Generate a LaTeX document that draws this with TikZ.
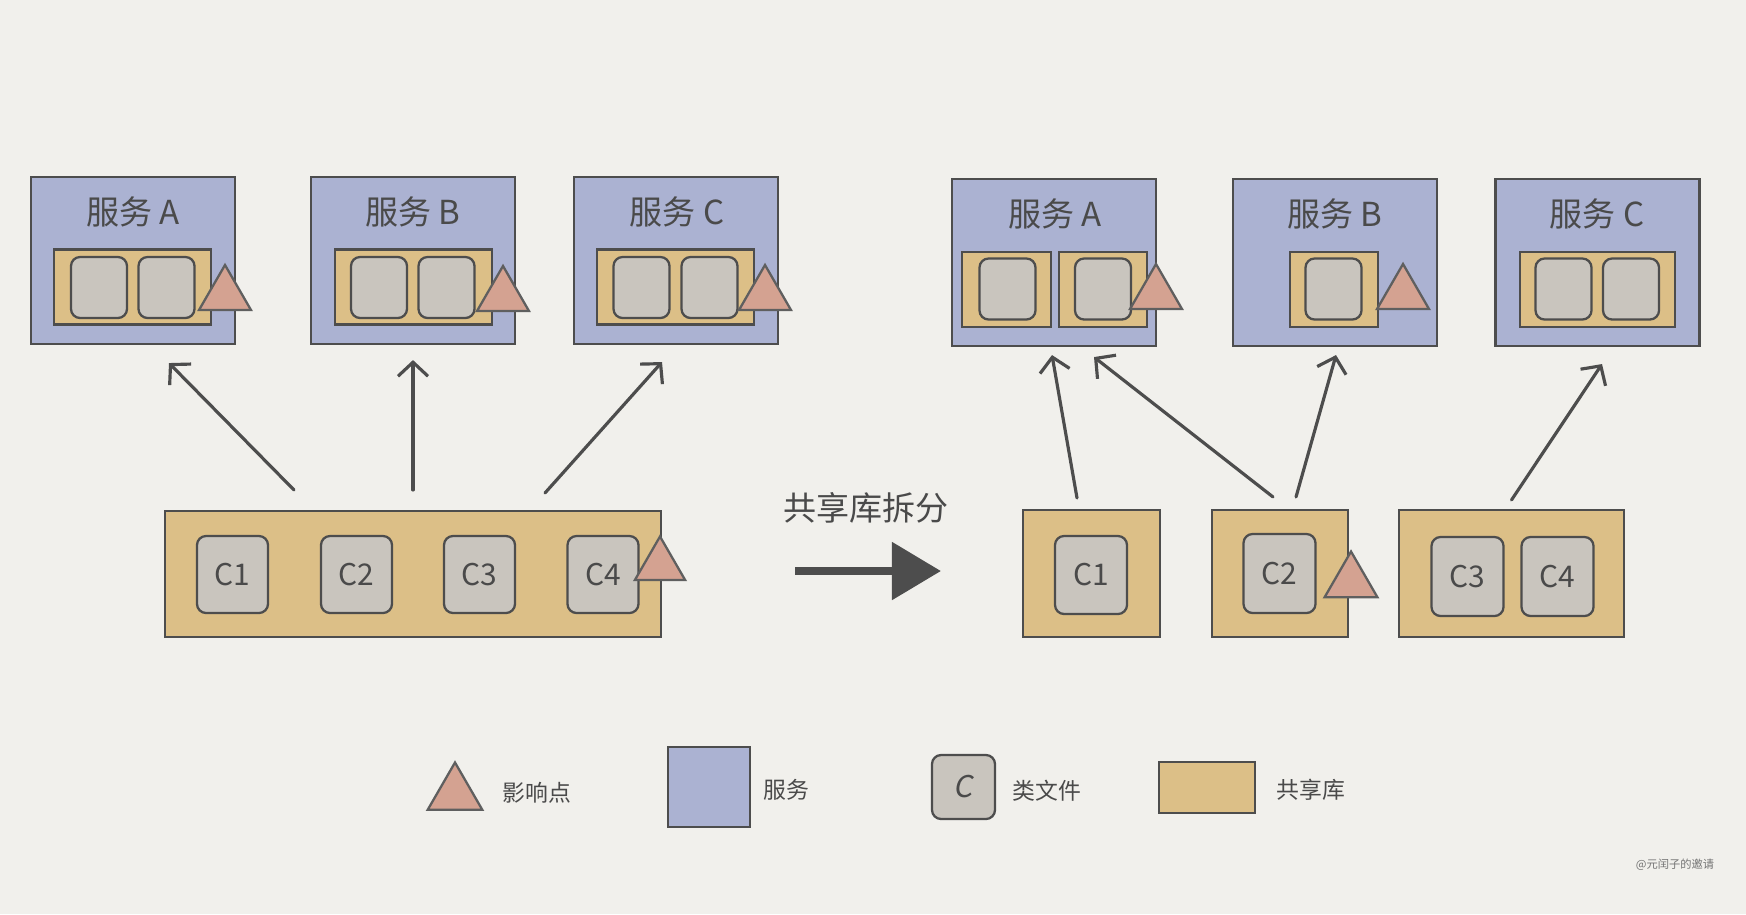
\documentclass[tikz,border=0pt]{standalone}
\usepackage{fontspec}
\setmainfont{Noto Sans CJK SC}
\newfontfamily\slantcjk{Noto Sans CJK SC}[FakeSlant=0.18]
\usepackage{tikz}
\usetikzlibrary{shapes.geometric, arrows.meta, calc}

\definecolor{paper}{HTML}{F1F0EC}
\definecolor{edge}{HTML}{4D4D4D}
\definecolor{ink}{HTML}{4A4A4A}
\definecolor{svcblue}{HTML}{ABB2D2}
\definecolor{libtan}{HTML}{DCBF87}
\definecolor{clsgray}{HTML}{C9C5BE}
\definecolor{hitred}{HTML}{D4A291}

\begin{document}
\begin{tikzpicture}[
    x=0.01cm, y=-0.01cm,
    svc/.style={draw=edge, fill=svcblue, line width=0.7pt, minimum width=2.04cm,
      minimum height=1.67cm, inner sep=0, outer sep=0},
    lib/.style={draw=edge, fill=libtan, line width=0.7pt, minimum height=0.75cm,
      inner sep=0, outer sep=0},
    cls/.style={draw=edge, fill=clsgray, rounded corners=2.6pt, line width=0.65pt,
      minimum width=0.56cm, minimum height=0.61cm, inner sep=0, text=ink,
      font=\fontsize{8.5}{10}\selectfont},
    bigcls/.style={cls, minimum width=0.71cm, minimum height=0.77cm},
    hit/.style={regular polygon, regular polygon sides=3, draw=edge!90, fill=hitred,
      line width=0.65pt, minimum size=0.6cm, inner sep=0, outer sep=0},
    title/.style={text=ink, inner sep=0, font=\fontsize{9.4}{11}\selectfont},
    legtext/.style={text=ink, inner sep=0, font=\fontsize{6.5}{8}\selectfont},
    arrow/.style={draw=edge, line width=0.9pt, line cap=round,
      -{Straight Barb[length=1.4mm, width=3mm]}},
    bigarrow/.style={draw=edge, line width=2.4pt, -{Triangle[length=0.49cm, width=0.56cm]}}
]
\fill[paper] (0,0) rectangle (1746,914);

% before: one shared library
\node[svc] (svcA) at (133,260.5) {};
\node[svc] (svcB) at (413,260.5) {};
\node[svc] (svcC) at (676,260.5) {};
\node[title] (tA) at (133,212) {服务 A};
\node[title] (tB) at (413,212) {服务 B};
\node[title] (tC) at (677,212) {服务 C};

\node[lib, minimum width=1.57cm] (libA) at (132.5,287) {};
\node[cls] (clsA1) at (99,287.5) {};
\node[cls] (clsA2) at (166.5,287.5) {};
\node[hit] (hitA) at (225,295) {};

\node[lib, minimum width=1.57cm] (libB) at (413.5,287) {};
\node[cls] (clsB1) at (379,287.5) {};
\node[cls] (clsB2) at (446.5,287.5) {};
\node[hit] (hitB) at (503,296) {};

\node[lib, minimum width=1.57cm] (libC) at (675.5,287) {};
\node[cls] (clsC1) at (641.5,287.5) {};
\node[cls] (clsC2) at (709.5,287.5) {};
\node[hit] (hitC) at (765,295) {};

\node[lib, minimum width=4.96cm, minimum height=1.26cm] (libL) at (413,574) {};
\node[bigcls] (cL1) at (232.5,574.5) {C1};
\node[bigcls] (cL2) at (356.5,574.5) {C2};
\node[bigcls] (cL3) at (479.5,574.5) {C3};
\node[bigcls] (cL4) at (603,574.5) {C4};
\node[hit, minimum size=0.58cm] (hitL) at (660,565.5) {};

\draw[arrow] ([shift={(-119,-21)}]libL.north) -- ([shift={(36,19)}]svcA.south);
\draw[arrow] ([shift={(0,-21)}]libL.north) -- ([shift={(0,16)}]svcB.south);
\draw[arrow] ([shift={(132,-18)}]libL.north) -- ([shift={(-14,18)}]svcC.south);

% the split
\node[title] (splitlabel) at (866,508) {共享库拆分};
\coordinate (splitL) at (795,571);
\coordinate (splitR) at (941,571);
\draw[bigarrow] (splitL) -- (splitR);

% after: split libraries
\node[svc] (svcA2) at (1054,262.5) {};
\node[svc] (svcB2) at (1335,262.5) {};
\node[svc] (svcC2) at (1597.5,262.5) {};
\node[title] (tA2) at (1055,214) {服务 A};
\node[title] (tB2) at (1335,214) {服务 B};
\node[title] (tC2) at (1597,214) {服务 C};

\node[lib, minimum width=0.89cm] (libA2a) at (1006.5,289.5) {};
\node[cls] (clsA2a) at (1007.5,289) {};
\node[lib, minimum width=0.88cm] (libA2b) at (1103,289.5) {};
\node[cls] (clsA2b) at (1103,289) {};
\node[hit] (hitA2) at (1156,294) {};

\node[lib, minimum width=0.88cm] (libB2) at (1334,289.5) {};
\node[cls] (clsB2a) at (1333.5,289) {};
\node[hit] (hitB2) at (1403,294) {};

\node[lib, minimum width=1.55cm] (libC2) at (1597.5,289.5) {};
\node[cls] (clsC2a) at (1563.5,289) {};
\node[cls] (clsC2b) at (1631,289) {};

\node[lib, minimum width=1.37cm, minimum height=1.27cm] (libR1) at (1091.5,573.5) {};
\node[bigcls, minimum width=0.72cm, minimum height=0.78cm] (cR1) at (1091,575) {C1};
\node[lib, minimum width=1.36cm, minimum height=1.27cm] (libR2) at (1280,573.5) {};
\node[bigcls, minimum width=0.72cm, minimum height=0.79cm] (cR2) at (1279.5,573.5) {C2};
\node[hit, minimum size=0.61cm] (hitR2) at (1351,582) {};
\node[lib, minimum width=2.25cm, minimum height=1.27cm] (libR3) at (1511.5,573.5) {};
\node[bigcls, minimum width=0.72cm, minimum height=0.79cm] (cR3) at (1467.5,576.5) {C3};
\node[bigcls, minimum width=0.72cm, minimum height=0.79cm] (cR4) at (1557.5,576.5) {C4};

\draw[arrow] ([shift={(-14.5,-12)}]libR1.north) -- ([shift={(-2,9)}]svcA2.south);
\draw[arrow] ([shift={(-7,-13)}]libR2.north) -- ([shift={(40,11)}]svcA2.south);
\draw[arrow] ([shift={(16,-13)}]libR2.north) -- ([shift={(1,9)}]svcB2.south);
\draw[arrow] ([shift={(0,-10)}]libR3.north) -- ([shift={(4.5,18)}]svcC2.south);

% legend
\node[hit, minimum size=0.63cm] (legHit) at (455,794) {};
\node[legtext] (legHitText) at (537,793) {影响点};
\node[svc, minimum width=0.82cm, minimum height=0.80cm] (legSvc) at (709,787) {};
\node[legtext] (legSvcText) at (786,790) {服务};
\node[cls, minimum width=0.63cm, minimum height=0.64cm,
  font=\slantcjk\fontsize{8.5}{10}\selectfont] (legCls) at (963.5,787) {C};
\node[legtext] (legClsText) at (1047,791) {类文件};
\node[lib, minimum width=0.96cm, minimum height=0.51cm] (legLib) at (1207,787.5) {};
\node[legtext] (legLibText) at (1311,790) {共享库};

\node[text=black!55, inner sep=0, font=\fontsize{3.2}{4}\selectfont] (mark) at (1675,865) {@元闰子的邀请};
\end{tikzpicture}
\end{document}
